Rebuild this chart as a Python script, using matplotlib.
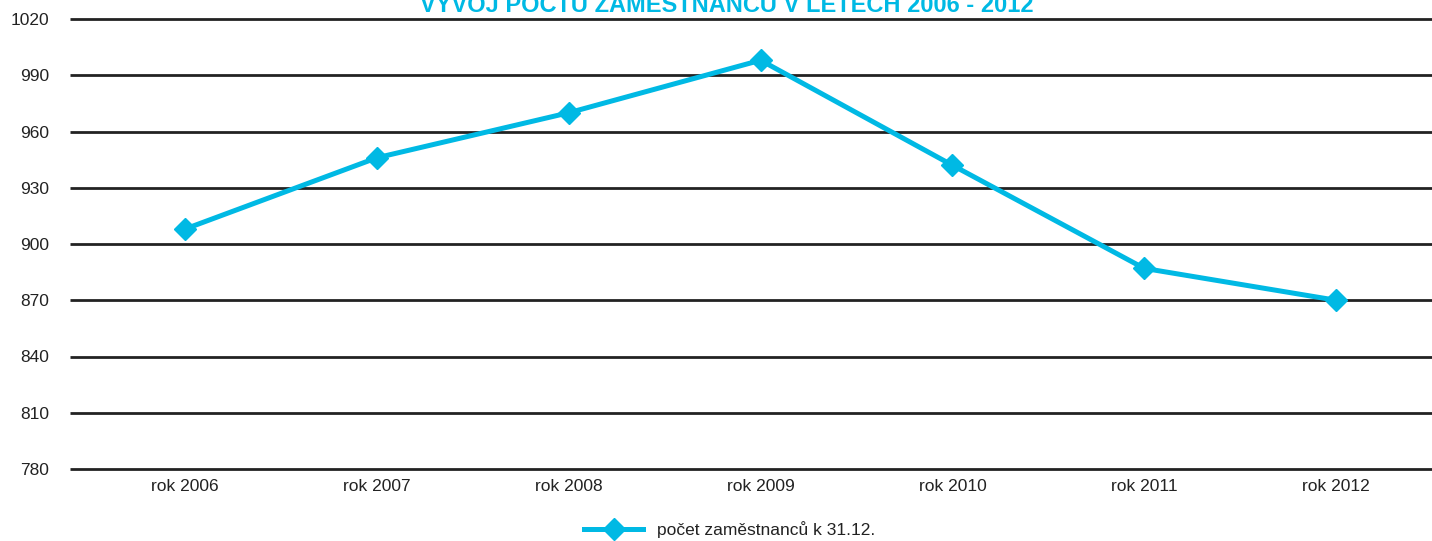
import matplotlib.pyplot as plt
import numpy as np

plt.rcParams['font.family'] = ['Liberation Sans', 'DejaVu Sans']

# data
years = ['rok 2006', 'rok 2007', 'rok 2008', 'rok 2009', 'rok 2010', 'rok 2011', 'rok 2012']
employees = [908, 946, 970, 998, 942, 887, 870]
yticks = [780, 810, 840, 870, 900, 930, 960, 990, 1020]

cyan = '#00b9e4'

fig = plt.figure(figsize=(14.32, 5.41), dpi=100)
ax = fig.add_axes([70 / 1432, 1 - 469 / 541, 1 - 70 / 1432, (469 - 19) / 541])

x = np.arange(len(years))

# gridlines (drawn unclipped so the top and bottom ones are full width)
ax.hlines(yticks, 0, 1, transform=ax.get_yaxis_transform(),
          colors='#222222', linewidth=2.0, clip_on=False, zorder=1)

ax.plot(x, employees, color=cyan, linewidth=3.6, marker='D', markersize=11,
        label='počet zaměstnanců k 31.12.', zorder=3, clip_on=False)

ax.set_xlim(-0.6, 6.5)
ax.set_ylim(780, 1020)
ax.set_yticks(yticks)
ax.set_xticks(x)
ax.set_xticklabels(years)
ax.tick_params(axis='y', length=0, pad=15, labelsize=12.5, labelcolor='#222222')
ax.tick_params(axis='x', length=0, pad=7, labelsize=12.5, labelcolor='#222222')
for s in ax.spines.values():
    s.set_visible(False)

# title (partly cut off at the top as in the original)
fig.text(727 / 1432, 1 - 12 / 541, 'VÝVOJ POČTU ZAMĚSTNANCŮ V LETECH 2006 - 2012',
         ha='center', va='baseline', fontsize=17, fontweight='bold', color=cyan)

fig.legend(loc='center', bbox_to_anchor=(730 / 1432, 1 - 530 / 541), frameon=False,
           fontsize=12.5, handlelength=3.4, labelcolor='#222222')

fig.savefig('out.png', dpi=100)
